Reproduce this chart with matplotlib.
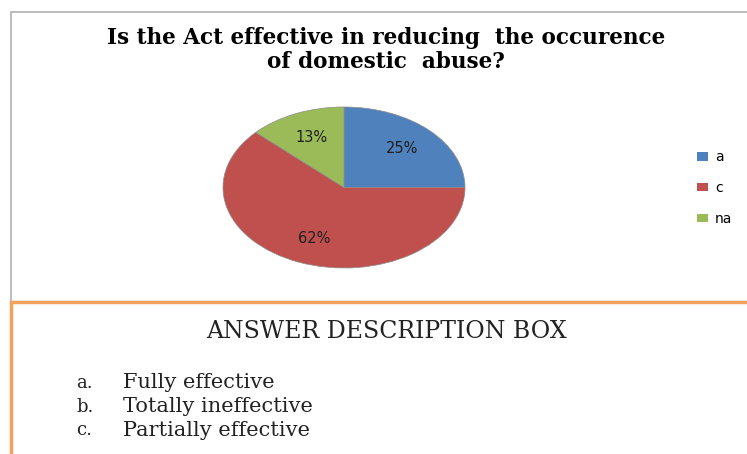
import matplotlib.pyplot as plt
from matplotlib.patches import Rectangle

# survey answers: share of respondents per answer
answers = ['a', 'c', 'na']
shares = [25, 62, 13]
colors = ['#4F81BD', '#C0504D', '#9BBB59']

title = "Is the Act effective in reducing  the occurence\nof domestic  abuse?"
box_title = "ANSWER DESCRIPTION BOX"
box_keys = ['a.', 'b.', 'c.']
box_items = ['Fully effective', 'Totally ineffective', 'Partially effective']

W, H = 747, 454
fig = plt.figure(figsize=(W / 100, H / 100), dpi=100)


def fx(px):
    return px / W


def fy(py):
    return 1 - py / H


# chart frame (grey) and description box (orange)
fig.patches.append(Rectangle((fx(11), fy(302)), 1.0, fy(12) - fy(302),
                             transform=fig.transFigure, fill=False,
                             edgecolor='#BDBDBD', linewidth=1.5))
fig.patches.append(Rectangle((fx(11), -0.1), 1.0, fy(302) + 0.1,
                             transform=fig.transFigure, fill=False,
                             edgecolor='#F2A25A', linewidth=2.5))

fig.text(fx(386), fy(50), title, ha='center', va='center',
         family='DejaVu Serif', weight='bold', fontsize=15.5, linespacing=1.15)

# the pie is stretched horizontally, so the axes box is wider than tall
ax = fig.add_axes([fx(223), fy(268), fx(465) - fx(223), fy(107) - fy(268)])
wedges, texts, autotexts = ax.pie(shares, colors=colors, startangle=90,
                                  counterclock=False, autopct='%d%%',
                                  pctdistance=0.68,
                                  wedgeprops=dict(linewidth=0.5, edgecolor='#8a8a8a'),
                                  textprops=dict(fontsize=10.5, color='#1f1f1f',
                                                 family='DejaVu Sans'))
ax.set_aspect('auto')
ax.set_xlim(-1, 1)
ax.set_ylim(-1, 1)

fig.legend(wedges, answers, loc='center left',
           bbox_to_anchor=(fx(684), fy(188)), frameon=False,
           fontsize=10, handlelength=0.85, handleheight=0.55,
           handletextpad=0.5, labelspacing=1.2)
for h in fig.legends[0].legend_handles:
    h.set_edgecolor('none')

fig.text(fx(386), fy(331), box_title, ha='center', va='center',
         family='DejaVu Serif', fontsize=17, color='#222222')
for i, (key, item) in enumerate(zip(box_keys, box_items)):
    y = fy(383 + i * 23.5)
    fig.text(fx(76), y, key, ha='left', va='center',
             family='DejaVu Serif', fontsize=13, color='#222222')
    fig.text(fx(123), y, item, ha='left', va='center',
             family='DejaVu Serif', fontsize=15, color='#222222')

plt.savefig('out.png', dpi=100)
